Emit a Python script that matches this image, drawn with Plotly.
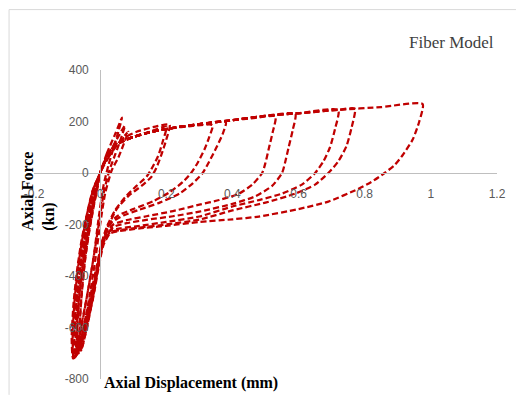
import plotly.graph_objects as go

# ---- tick labels ----
x_tickvals = [-0.2, 0, 0.2, 0.4, 0.6, 0.8, 1, 1.2]
x_ticktext = ["-0.2", "0", "0.2", "0.4", "0.6", "0.8", "1", "1.2"]
y_tickvals = [-800, -600, -400, -200, 0, 200, 400]
y_ticktext = ["-800", "-600", "-400", "-200", "0", "200", "400"]

# ---- hysteresis cycles (displacement mm, force kN) ----
c1_x = [0.0, 0.02, 0.045, 0.066, 0.055, 0.04, 0.025, 0.01, -0.005, -0.02, -0.04, -0.06, -0.075, -0.078, -0.07, -0.058, -0.045, -0.03, -0.015, 0.0]
c1_y = [0, 75, 150, 215, 160, 95, 30, -50, -180, -330, -480, -610, -700, -620, -480, -350, -240, -140, -60, 0]

c2_x = [0.0, 0.025, 0.055, 0.085, 0.072, 0.055, 0.035, 0.015, 0.0, -0.015, -0.035, -0.055, -0.07, -0.074, -0.066, -0.055, -0.042, -0.027, -0.012, 0.0]
c2_y = [0, 60, 115, 160, 115, 60, 10, -80, -200, -340, -500, -630, -705, -600, -470, -340, -230, -130, -50, 0]

c3_x = [0.0, 0.025, 0.05, 0.075, 0.062, 0.045, 0.028, 0.012, -0.003, -0.02, -0.04, -0.058, -0.068, -0.07, -0.062, -0.05, -0.036, -0.022, -0.008, 0.0]
c3_y = [0, 70, 130, 185, 130, 70, 10, -70, -190, -330, -480, -610, -680, -590, -460, -330, -220, -120, -45, 0]

c4_x = [0.0, 0.01, 0.03, 0.06, 0.1, 0.15, 0.2, 0.19, 0.175, 0.155, 0.14, 0.11, 0.075, 0.045, 0.02, 0.005, -0.01, -0.03, -0.05, -0.068, -0.072, -0.066, -0.055, -0.042, -0.028, -0.013, 0.0]
c4_y = [0, 32, 86, 118, 140, 160, 180, 125, 65, 15, -15, -50, -95, -145, -210, -270, -360, -480, -600, -700, -610, -470, -340, -230, -130, -50, 0]

c5_x = [0.0, 0.012, 0.035, 0.07, 0.11, 0.16, 0.21, 0.2, 0.185, 0.17, 0.155, 0.125, 0.085, 0.05, 0.025, 0.01, -0.005, -0.022, -0.045, -0.065, -0.08, -0.083, -0.077, -0.066, -0.053, -0.038, -0.02, 0.0]
c5_y = [0, 40, 95, 135, 160, 178, 188, 130, 70, 20, -15, -50, -90, -140, -205, -260, -340, -460, -590, -680, -720, -630, -490, -360, -250, -150, -60, 0]

c6_x = [0.0, 0.01, 0.03, 0.06, 0.1, 0.15, 0.21, 0.28, 0.34, 0.33, 0.315, 0.295, 0.275, 0.25, 0.21, 0.16, 0.1, 0.055, 0.025, 0.008, -0.005, -0.02, -0.04, -0.058, -0.062, -0.056, -0.046, -0.034, -0.02, -0.008, 0.0]
c6_y = [0, 32, 86, 118, 140, 158, 173, 183, 186, 140, 90, 40, 0, -35, -75, -110, -140, -165, -200, -260, -350, -470, -600, -690, -600, -470, -340, -230, -130, -50, 0]

c7_x = [0.0, 0.01, 0.03, 0.06, 0.1, 0.15, 0.21, 0.3, 0.38, 0.37, 0.35, 0.33, 0.31, 0.28, 0.24, 0.18, 0.12, 0.07, 0.035, 0.015, 0.0, -0.015, -0.035, -0.055, -0.075, -0.08, -0.074, -0.064, -0.051, -0.036, -0.018, 0.0]
c7_y = [0, 32, 86, 118, 140, 158, 173, 190, 198, 150, 95, 45, 0, -40, -80, -115, -142, -165, -192, -240, -310, -420, -540, -640, -715, -630, -500, -370, -255, -150, -60, 0]

c8_x = [0.0, 0.01, 0.03, 0.06, 0.1, 0.15, 0.21, 0.3, 0.4, 0.47, 0.53, 0.522, 0.51, 0.5, 0.49, 0.46, 0.42, 0.36, 0.3, 0.22, 0.14, 0.08, 0.04, 0.015, 0.0, -0.015, -0.033, -0.05, -0.065, -0.069, -0.062, -0.05, -0.037, -0.022, -0.009, 0.0]
c8_y = [0, 32, 86, 118, 140, 158, 173, 190, 205, 214, 220, 160, 95, 40, 0, -45, -80, -105, -123, -148, -168, -183, -200, -240, -300, -410, -530, -630, -700, -610, -470, -340, -230, -130, -50, 0]

c9_x = [0.0, 0.01, 0.03, 0.06, 0.1, 0.15, 0.21, 0.3, 0.4, 0.5, 0.59, 0.582, 0.57, 0.56, 0.55, 0.52, 0.47, 0.4, 0.3, 0.22, 0.14, 0.08, 0.04, 0.015, 0.0, -0.018, -0.04, -0.062, -0.082, -0.086, -0.08, -0.069, -0.056, -0.04, -0.022, 0.0]
c9_y = [0, 32, 86, 118, 140, 158, 173, 190, 205, 222, 230, 165, 100, 45, 0, -50, -90, -120, -150, -168, -182, -195, -210, -250, -310, -430, -560, -660, -720, -640, -500, -370, -260, -160, -65, 0]

c10_x = [0.0, 0.01, 0.03, 0.06, 0.1, 0.15, 0.21, 0.3, 0.4, 0.5, 0.6, 0.72, 0.71, 0.695, 0.675, 0.65, 0.61, 0.55, 0.48, 0.4, 0.3, 0.2, 0.12, 0.06, 0.03, 0.01, -0.003, -0.02, -0.04, -0.058, -0.062, -0.055, -0.045, -0.032, -0.018, -0.006, 0.0]
c10_y = [0, 32, 86, 118, 140, 158, 173, 190, 205, 222, 232, 245, 170, 100, 45, 0, -45, -80, -105, -130, -169, -190, -205, -215, -225, -260, -340, -470, -600, -690, -600, -460, -330, -220, -120, -45, 0]

c11_x = [0.0, 0.01, 0.03, 0.06, 0.1, 0.15, 0.21, 0.3, 0.4, 0.5, 0.6, 0.72, 0.77, 0.76, 0.745, 0.72, 0.69, 0.65, 0.59, 0.5, 0.4, 0.3, 0.2, 0.12, 0.06, 0.03, 0.01, -0.005, -0.025, -0.048, -0.07, -0.074, -0.068, -0.057, -0.044, -0.029, -0.013, 0.0]
c11_y = [0, 32, 86, 118, 140, 158, 173, 190, 205, 222, 232, 245, 250, 175, 105, 45, 0, -45, -80, -115, -145, -181, -200, -212, -222, -230, -270, -360, -490, -620, -705, -620, -480, -350, -240, -140, -55, 0]

c12_x = [0.0, 0.01, 0.03, 0.06, 0.1, 0.15, 0.21, 0.3, 0.4, 0.5, 0.6, 0.72, 0.85, 0.975, 0.965, 0.945, 0.915, 0.89, 0.86, 0.82, 0.78, 0.69, 0.6, 0.48, 0.4, 0.3, 0.2, 0.12, 0.06, 0.03, 0.01, -0.005, -0.022, -0.045, -0.065, -0.08, -0.084, -0.078, -0.067, -0.054, -0.039, -0.021, 0.0]
c12_y = [0, 32, 86, 118, 140, 158, 173, 190, 205, 222, 232, 245, 256, 268, 200, 130, 70, 30, 0, -35, -62, -111, -140, -169, -180, -190, -205, -215, -225, -235, -280, -370, -490, -610, -690, -720, -640, -500, -370, -260, -160, -65, 0]

cycles = [(c1_x, c1_y), (c2_x, c2_y), (c3_x, c3_y), (c4_x, c4_y), (c5_x, c5_y),
          (c6_x, c6_y), (c7_x, c7_y), (c8_x, c8_y), (c9_x, c9_y), (c10_x, c10_y),
          (c11_x, c11_y), (c12_x, c12_y)]

RED = "#c00000"

fig = go.Figure()
for cx, cy in cycles:
    fig.add_trace(go.Scatter(
        x=cx, y=cy, mode="lines",
        line=dict(color=RED, width=2.25, dash="6px,3px", shape="spline", smoothing=0.6),
        showlegend=False, hoverinfo="skip"))

W, H = 518, 398
L, R, T, B = 34, 20, 70, 16
pw, ph = W - L - R, H - T - B

def px2paper(px, py):
    return (px - L) / pw, (H - B - py) / ph

tick_font = dict(family="Liberation Sans Narrow, Liberation Sans, Arial", size=12, color="#595959")

fig.update_layout(
    width=W, height=H,
    margin=dict(l=L, r=R, t=T, b=B),
    paper_bgcolor="white", plot_bgcolor="white",
    showlegend=False,
    xaxis=dict(range=[-0.2, 1.2], tickvals=x_tickvals, ticktext=x_ticktext,
               showgrid=False, zeroline=False, showline=True, linecolor="#bfbfbf", linewidth=1,
               anchor="free", position=(0 - (-800)) / 1200, ticks="",
               ticklabelstandoff=10, tickfont=tick_font),
    yaxis=dict(range=[-800, 400], tickvals=y_tickvals, ticktext=y_ticktext,
               showgrid=False, zeroline=False, showline=True, linecolor="#bfbfbf", linewidth=1,
               anchor="free", position=(0 - (-0.2)) / 1.4, ticks="",
               ticklabelstandoff=9, tickfont=tick_font),
)

# outer chart border (top and left visible)
bx0, by0 = px2paper(9, 9)
bx1, by1 = px2paper(517, 398)
fig.add_shape(type="line", xref="paper", yref="paper", x0=bx0, y0=by0, x1=bx1, y1=by0,
              line=dict(color="#d9d9d9", width=1))
fig.add_shape(type="line", xref="paper", yref="paper", x0=bx0, y0=by0, x1=bx0, y1=by1,
              line=dict(color="#d9d9d9", width=1))

# title
tx, ty = px2paper(452, 42)
fig.add_annotation(text="Fiber Model", xref="paper", yref="paper", x=tx, y=ty,
                   xanchor="center", yanchor="middle", showarrow=False,
                   font=dict(family="Liberation Serif, Times New Roman, serif", size=17, color="#404040"))

# x axis title
ax, ay = px2paper(102, 386)
fig.add_annotation(text="<b>Axial Displacement (mm)</b>", xref="paper", yref="paper", x=ax, y=ay,
                   xanchor="left", yanchor="middle", showarrow=False,
                   font=dict(family="Liberation Serif, Times New Roman, serif", size=16, color="black"))

# y axis title
yx, yy = px2paper(39, 192)
fig.add_annotation(text="<b>Axial Force<br>(kn)</b>", xref="paper", yref="paper", x=yx, y=yy,
                   xanchor="center", yanchor="middle", showarrow=False, textangle=-90, align="left",
                   font=dict(family="Liberation Serif, Times New Roman, serif", size=16, color="black"))

fig.write_html("out.html")
